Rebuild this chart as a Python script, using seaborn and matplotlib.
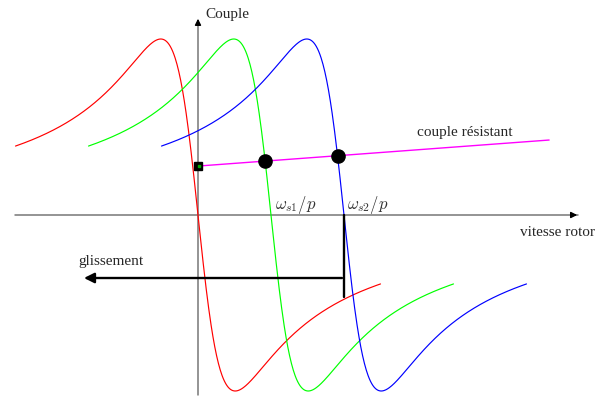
import numpy as np
import pandas as pd
import matplotlib
matplotlib.use("Agg")
import matplotlib.pyplot as plt
import seaborn as sns

# Torque-speed characteristics (Kloss model) for three supply frequencies
sync_speeds = [0.0, 1.0, 2.0]            # synchronous speeds (0, ws1/p, ws2/p)
curve_colors = ["#ff0000", "#00ff00", "#0000ff"]
peak_torque = 1.0                        # breakdown torque
breakdown_slip = 0.51                    # speed offset of the torque peak
slip_span = 2.5                          # half width of the plotted speed range

# Load torque line
load_speeds = [0.0, 4.81]
load_torques = [0.278, 0.426]

sns.set_theme(style="white")
plt.rcParams["font.family"] = ["Liberation Serif", "DejaVu Serif"]
plt.rcParams["mathtext.fontset"] = "cm"

fig = plt.figure(figsize=(6.09, 3.99), dpi=100)
ax = fig.add_axes([0, 0, 1, 1])
ax.set_xlim(-198 / 73, (609 - 198) / 73)
ax.set_ylim(-184 / 176, 215 / 176)
ax.axis("off")


def kloss(speed, sync):
    d = (sync - speed) / breakdown_slip
    return 2 * peak_torque * d / (d ** 2 + 1)


frames = []
for i, ws in enumerate(sync_speeds):
    w = np.linspace(ws - slip_span, ws + slip_span, 600)
    frames.append(pd.DataFrame({"speed": w, "torque": kloss(w, ws), "curve": f"c{i}"}))
curves = pd.concat(frames, ignore_index=True)

# main axes
ax.plot([-2.507, 5.20], [0, 0], color="#777777", lw=1.1, zorder=1)
ax.plot([0, 0], [-1.023, 1.10], color="#777777", lw=1.1, zorder=1)
ax.annotate("", xy=(5.233, 0), xytext=(5.10, 0),
            arrowprops=dict(arrowstyle="-|>", color="black", lw=1, mutation_scale=9))
ax.annotate("", xy=(0, 1.131), xytext=(0, 1.07),
            arrowprops=dict(arrowstyle="-|>", color="black", lw=1, mutation_scale=9))

sns.lineplot(data=curves, x="speed", y="torque", hue="curve",
             palette=curve_colors, estimator=None, sort=False,
             lw=0.85, legend=False, ax=ax, zorder=3)

# load torque line
sns.lineplot(x=load_speeds, y=load_torques, color="#ff00ff", lw=1.0, ax=ax, zorder=4)
ax.plot(load_speeds[0], load_torques[0], marker="s", ms=5.5, color="black", zorder=6)
ax.plot(load_speeds[0] + 0.01, load_torques[0], marker="s", ms=2, color="#00aa00",
        zorder=7)


def load(speed):
    return load_torques[0] + (speed - load_speeds[0]) * (
        (load_torques[1] - load_torques[0]) / (load_speeds[1] - load_speeds[0]))


# operating points on the green and blue characteristics
for ws in sync_speeds[1:]:
    w = np.linspace(ws - breakdown_slip, ws, 4000)
    diff = kloss(w, ws) - load(w)
    k = np.argmin(np.abs(diff))
    ax.plot(w[k], load(w[k]), "o", ms=9.5, color="black", zorder=8)

# slip arrow
ax.plot([sync_speeds[2], sync_speeds[2]], [0, -0.466], color="black", lw=1.7, zorder=5)
ax.annotate("", xy=(-1.60, -0.358), xytext=(sync_speeds[2] + 0.01, -0.358),
            arrowprops=dict(arrowstyle="-|>", color="black", lw=1.7, mutation_scale=15),
            zorder=5)

fs = 11
ax.text(0.096, 1.142, "Couple", fontsize=fs, va="center", ha="left")
ax.text(4.41, -0.102, "vitesse rotor", fontsize=fs, va="center", ha="left")
ax.text(3.66, 0.466, "couple résistant", fontsize=fs, va="center", ha="center")
ax.text(-1.644, -0.267, "glissement", fontsize=fs, va="center", ha="left")
ax.text(1.055, 0.057, r"$\omega_{s1}/p$", fontsize=12, va="center", ha="left",
        color="#333333")
ax.text(2.04, 0.057, r"$\omega_{s2}/p$", fontsize=12, va="center", ha="left",
        color="#333333")

fig.savefig("out.png", dpi=100, facecolor="white")
